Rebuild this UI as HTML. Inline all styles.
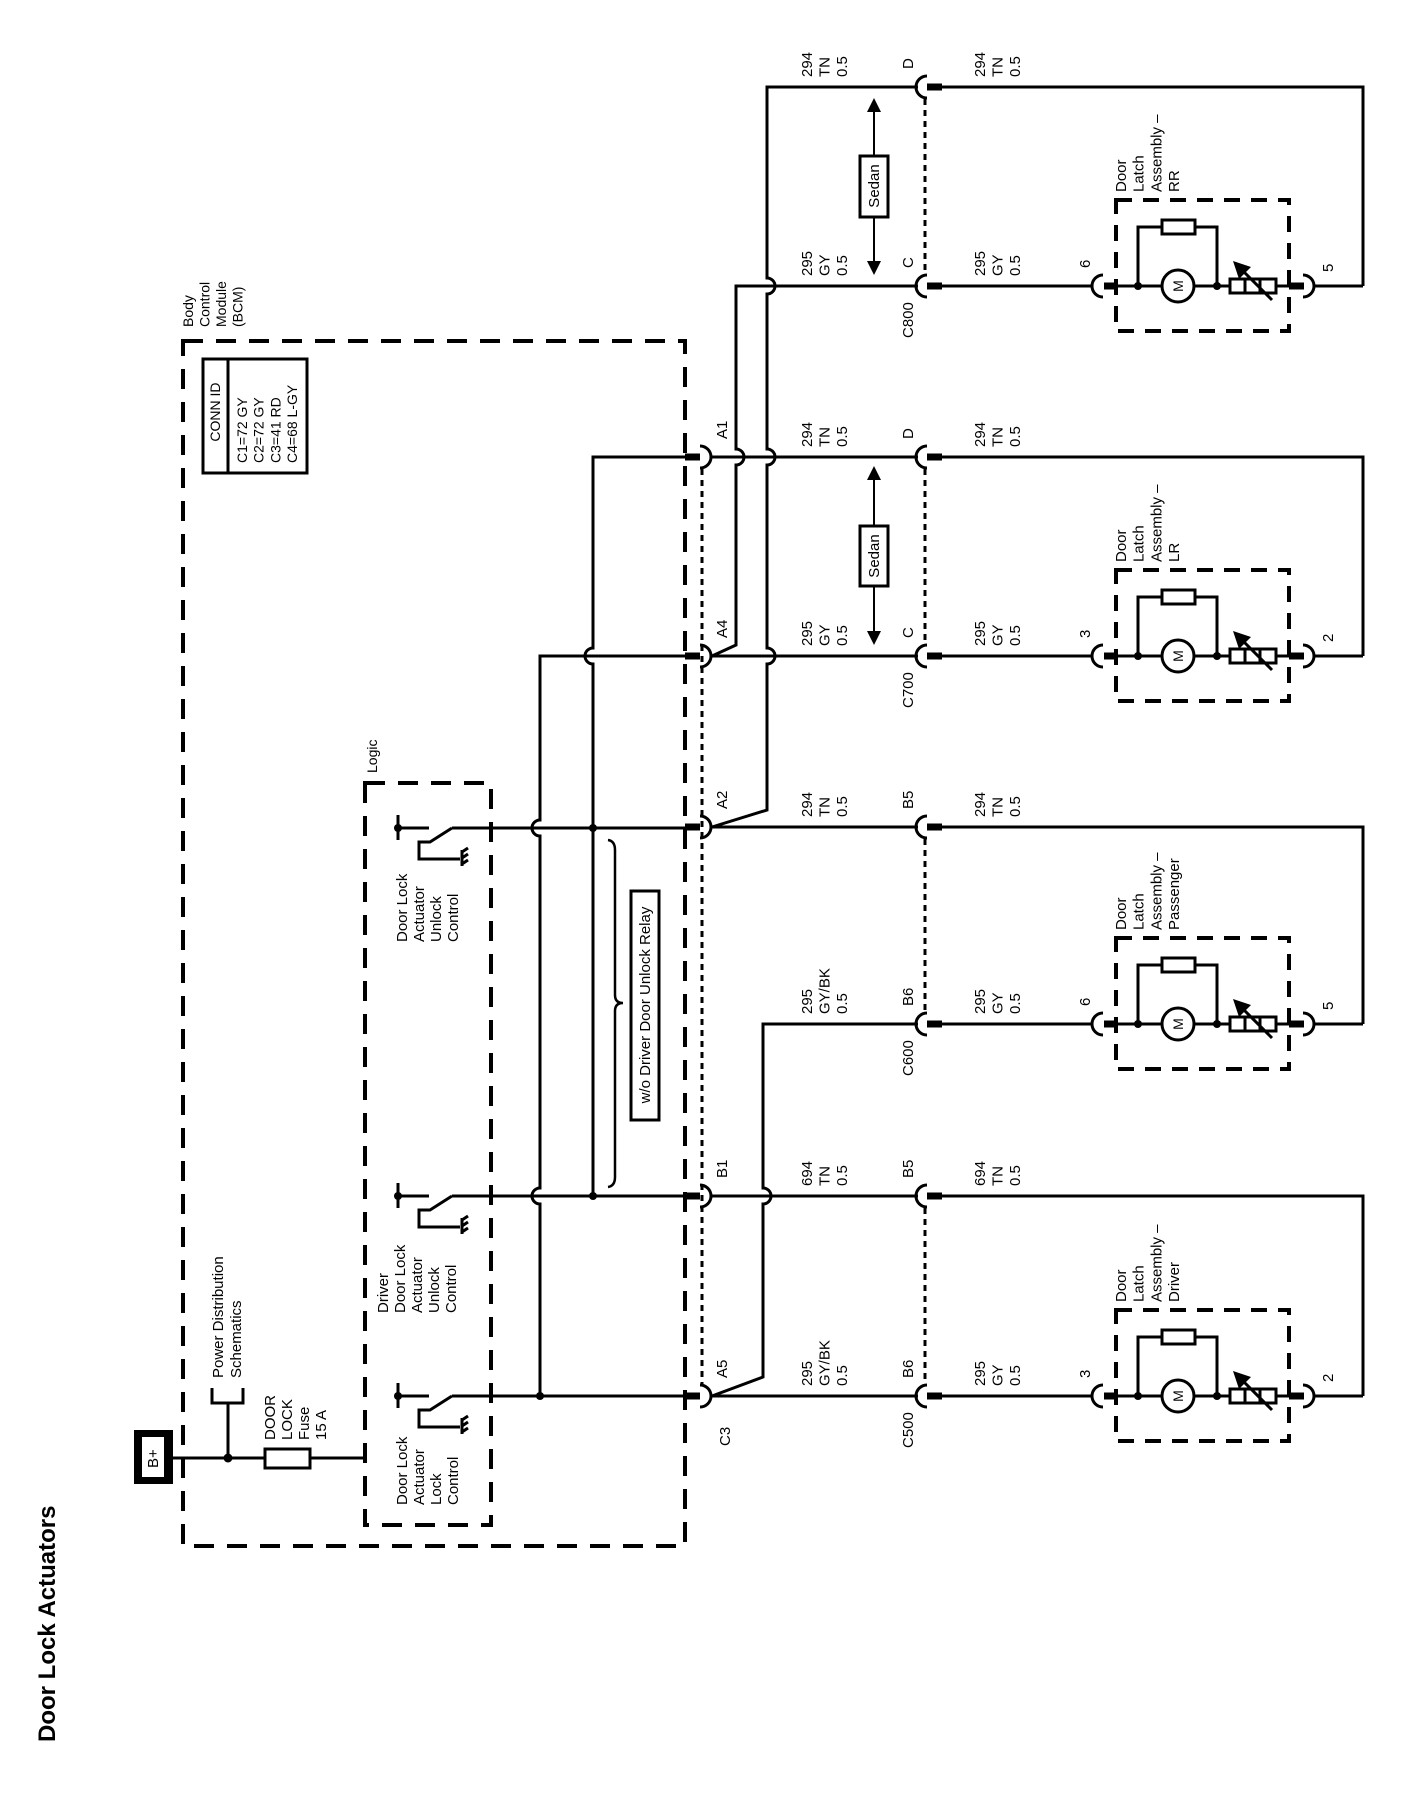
<!DOCTYPE html>
<html><head><meta charset="utf-8"><style>
html,body{margin:0;padding:0;background:#fff;}
svg{display:block;}
text{font-family:"Liberation Sans",Arial,sans-serif;font-size:15px;fill:#000;}
.w{stroke:#000;stroke-width:3;fill:none;}
.bar{stroke:#000;stroke-width:7;fill:none;}
.dash{stroke:#000;stroke-width:4;fill:none;stroke-dasharray:20 13;}
.cdash{stroke:#000;stroke-width:4;fill:none;stroke-dasharray:16 11;}
.dot{stroke:#000;stroke-width:3;fill:none;stroke-dasharray:6 5;}
</style></head><body>
<svg width="1408" height="1800" viewBox="0 0 1408 1800" xmlns="http://www.w3.org/2000/svg">
<defs>
<g id="comp">
  <rect x="1116" y="-86" width="173" height="131" class="cdash"/>
  <path class="w" d="M1103,-11 A11,11 0 0 0 1103,11"/>
  <line class="bar" x1="1104" y1="0" x2="1118" y2="0"/>
  <path class="w" d="M1118,0 H1162 M1194,0 H1230 M1276,0 H1289"/>
  <circle cx="1138" cy="0" r="4"/><circle cx="1217" cy="0" r="4"/>
  <circle cx="1178" cy="0" r="16" fill="#fff" stroke="#000" stroke-width="3"/>
  <text transform="translate(1183,0) rotate(-90)" text-anchor="middle" style="font-size:14px">M</text>
  <path class="w" d="M1138,0 V-59 H1217 V0"/>
  <rect x="1162" y="-66" width="33" height="14" fill="#fff" stroke="#000" stroke-width="3"/>
  <rect x="1230" y="-7" width="46" height="14" fill="#fff" stroke="#000" stroke-width="3"/>
  <path class="w" d="M1245,-7 V7 M1260,-7 V7"/>
  <line x1="1272" y1="14" x2="1242" y2="-16" stroke="#000" stroke-width="3"/>
  <polygon points="1233,-25 1251,-19 1239,-7"/>
  <line class="bar" x1="1289" y1="0" x2="1304" y2="0"/>
  <path class="w" d="M1303,-11 A11,11 0 0 1 1303,11"/>
  <path class="w" d="M1314,0 H1363"/>
</g>
<g id="c2">
  <path class="w" d="M927,-11 A11,11 0 0 0 927,11"/>
  <line class="bar" x1="927" y1="0" x2="942" y2="0"/>
</g>
<g id="c1">
  <line class="bar" x1="685" y1="0" x2="700" y2="0"/>
  <path class="w" d="M700,-11 A11,11 0 0 1 700,11"/>
</g>
<g id="sw">
  <circle cx="398" cy="0" r="4"/>
  <path class="w" d="M398,-13 V12 M398,0 H429"/>
  <path class="w" d="M452,0 L430,14 H419 V31 H460"/>
  <path class="w" d="M462,22 V38 M462,24 l6,-4 M462,30 l6,-4 M462,36 l6,-4"/>
</g>
</defs>

<!-- title -->
<text transform="translate(55,1742) rotate(-90)" style="font-size:24px;font-weight:bold">Door Lock Actuators</text>

<!-- BCM -->
<rect x="183" y="341" width="502" height="1205" class="dash"/>
<text transform="translate(193,327) rotate(-90)" style="font-size:14px"><tspan x="0" y="0">Body</tspan><tspan x="0" dy="16.5">Control</tspan><tspan x="0" dy="16.5">Module</tspan><tspan x="0" dy="16.5">(BCM)</tspan></text>
<rect x="203" y="359" width="104" height="114" fill="none" stroke="#000" stroke-width="3"/>
<line x1="228" y1="359" x2="228" y2="473" stroke="#000" stroke-width="3"/>
<text transform="translate(220,412) rotate(-90)" text-anchor="middle" style="font-size:14px">CONN ID</text>
<text transform="translate(247,463) rotate(-90)" style="font-size:14px"><tspan x="0" y="0">C1=72 GY</tspan><tspan x="0" dy="16.7">C2=72 GY</tspan><tspan x="0" dy="16.7">C3=41 RD</tspan><tspan x="0" dy="16.7">C4=68 L-GY</tspan></text>

<!-- Logic -->
<rect x="365" y="783" width="126" height="742" class="dash"/>
<text transform="translate(377,773) rotate(-90)" style="font-size:14px">Logic</text>

<!-- B+ & fuse -->
<rect x="134" y="1430" width="39" height="54" fill="#000"/>
<rect x="142" y="1437" width="22" height="40" fill="#fff"/>
<text transform="translate(158,1468) rotate(-90)" style="font-size:15px">B+</text>
<path class="w" d="M173,1458 H365"/>
<circle cx="228" cy="1458" r="4.5"/>
<path class="w" d="M228,1458 V1403 M212,1388 V1403 H243 V1388"/>
<rect x="265" y="1449" width="45" height="19" fill="#fff" stroke="#000" stroke-width="3"/>
<text transform="translate(223,1378) rotate(-90)"><tspan x="0" y="0">Power Distribution</tspan><tspan x="0" dy="18">Schematics</tspan></text>
<text transform="translate(275,1440) rotate(-90)"><tspan x="0" y="0">DOOR</tspan><tspan x="0" dy="17">LOCK</tspan><tspan x="0" dy="17">Fuse</tspan><tspan x="0" dy="17">15 A</tspan></text>

<!-- switches -->
<use href="#sw" transform="translate(0,828)"/>
<use href="#sw" transform="translate(0,1196)"/>
<use href="#sw" transform="translate(0,1396)"/>
<text transform="translate(407,942) rotate(-90)"><tspan x="0" y="0">Door Lock</tspan><tspan x="0" dy="17">Actuator</tspan><tspan x="0" dy="17">Unlock</tspan><tspan x="0" dy="17">Control</tspan></text>
<text transform="translate(388,1313) rotate(-90)"><tspan x="0" y="0">Driver</tspan><tspan x="0" dy="17">Door Lock</tspan><tspan x="0" dy="17">Actuator</tspan><tspan x="0" dy="17">Unlock</tspan><tspan x="0" dy="17">Control</tspan></text>
<text transform="translate(407,1505) rotate(-90)"><tspan x="0" y="0">Door Lock</tspan><tspan x="0" dy="17">Actuator</tspan><tspan x="0" dy="17">Lock</tspan><tspan x="0" dy="17">Control</tspan></text>

<!-- BCM internal wiring -->
<path class="w" d="M452,828 H685 M452,1196 H685 M452,1396 H685"/>
<path class="w" d="M685,656 H540 V820 A8,8 0 0 0 540,836 V1188 A8,8 0 0 0 540,1204 V1396"/>
<path class="w" d="M685,457 H593 V648 A8,8 0 0 0 593,664 V1196"/>
<circle cx="540" cy="1396" r="4"/>
<circle cx="593" cy="828" r="4"/>
<circle cx="593" cy="1196" r="4"/>
<path d="M608,840 Q615,841 615,850 V995 Q615,1003 623,1003 Q615,1003 615,1011 V1177 Q615,1186 608,1187" fill="none" stroke="#000" stroke-width="2.5"/>
<rect x="631" y="891" width="28" height="229" fill="#fff" stroke="#000" stroke-width="3"/>
<text transform="translate(650,1005) rotate(-90)" text-anchor="middle">w/o Driver Door Unlock Relay</text>

<!-- BCM connectors -->
<line class="dot" x1="702" y1="469" x2="702" y2="1386"/>
<use href="#c1" transform="translate(0,457)"/>
<use href="#c1" transform="translate(0,656)"/>
<use href="#c1" transform="translate(0,827)"/>
<use href="#c1" transform="translate(0,1196)"/>
<use href="#c1" transform="translate(0,1396)"/>
<text transform="translate(727,439) rotate(-90)">A1</text>
<text transform="translate(727,638) rotate(-90)">A4</text>
<text transform="translate(727,809) rotate(-90)">A2</text>
<text transform="translate(727,1178) rotate(-90)">B1</text>
<text transform="translate(727,1378) rotate(-90)">A5</text>
<text transform="translate(730,1446) rotate(-90)">C3</text>

<!-- harness wiring -->
<path class="w" d="M712,457 H918 M712,656 H918 M712,827 H918 M712,1196 H918 M712,1396 H918"/>
<path class="w" d="M712,656 L736,645 V465 A8,8 0 0 0 736,449 V286 H918 M918,87"/>
<path class="w" d="M712,827 L767,810 V664 A8,8 0 0 0 767,648 V465 A8,8 0 0 0 767,449 V294 A8,8 0 0 0 767,278 V87 H918"/>
<path class="w" d="M712,1396 L763,1377 V1204 A8,8 0 0 0 763,1188 V1024 H918"/>

<!-- column 2 connectors -->
<line class="dot" x1="925" y1="99" x2="925" y2="274"/>
<line class="dot" x1="925" y1="469" x2="925" y2="644"/>
<line class="dot" x1="925" y1="839" x2="925" y2="1012"/>
<line class="dot" x1="925" y1="1208" x2="925" y2="1384"/>
<use href="#c2" transform="translate(0,87)"/>
<use href="#c2" transform="translate(0,286)"/>
<use href="#c2" transform="translate(0,457)"/>
<use href="#c2" transform="translate(0,656)"/>
<use href="#c2" transform="translate(0,827)"/>
<use href="#c2" transform="translate(0,1024)"/>
<use href="#c2" transform="translate(0,1196)"/>
<use href="#c2" transform="translate(0,1396)"/>
<text transform="translate(913,69) rotate(-90)">D</text>
<text transform="translate(913,268) rotate(-90)">C</text>
<text transform="translate(913,439) rotate(-90)">D</text>
<text transform="translate(913,638) rotate(-90)">C</text>
<text transform="translate(913,809) rotate(-90)">B5</text>
<text transform="translate(913,1006) rotate(-90)">B6</text>
<text transform="translate(913,1178) rotate(-90)">B5</text>
<text transform="translate(913,1378) rotate(-90)">B6</text>
<text transform="translate(913,338) rotate(-90)">C800</text>
<text transform="translate(913,708) rotate(-90)">C700</text>
<text transform="translate(913,1076) rotate(-90)">C600</text>
<text transform="translate(913,1448) rotate(-90)">C500</text>

<!-- wire labels left -->
<text transform="translate(812,77) rotate(-90)"><tspan x="0" y="0">294</tspan><tspan x="0" dy="17.5">TN</tspan><tspan x="0" dy="17.5">0.5</tspan></text>
<text transform="translate(812,276) rotate(-90)"><tspan x="0" y="0">295</tspan><tspan x="0" dy="17.5">GY</tspan><tspan x="0" dy="17.5">0.5</tspan></text>
<text transform="translate(812,447) rotate(-90)"><tspan x="0" y="0">294</tspan><tspan x="0" dy="17.5">TN</tspan><tspan x="0" dy="17.5">0.5</tspan></text>
<text transform="translate(812,646) rotate(-90)"><tspan x="0" y="0">295</tspan><tspan x="0" dy="17.5">GY</tspan><tspan x="0" dy="17.5">0.5</tspan></text>
<text transform="translate(812,817) rotate(-90)"><tspan x="0" y="0">294</tspan><tspan x="0" dy="17.5">TN</tspan><tspan x="0" dy="17.5">0.5</tspan></text>
<text transform="translate(812,1014) rotate(-90)"><tspan x="0" y="0">295</tspan><tspan x="0" dy="17.5">GY/BK</tspan><tspan x="0" dy="17.5">0.5</tspan></text>
<text transform="translate(812,1186) rotate(-90)"><tspan x="0" y="0">694</tspan><tspan x="0" dy="17.5">TN</tspan><tspan x="0" dy="17.5">0.5</tspan></text>
<text transform="translate(812,1386) rotate(-90)"><tspan x="0" y="0">295</tspan><tspan x="0" dy="17.5">GY/BK</tspan><tspan x="0" dy="17.5">0.5</tspan></text>
<!-- wire labels right -->
<text transform="translate(985,77) rotate(-90)"><tspan x="0" y="0">294</tspan><tspan x="0" dy="17.5">TN</tspan><tspan x="0" dy="17.5">0.5</tspan></text>
<text transform="translate(985,276) rotate(-90)"><tspan x="0" y="0">295</tspan><tspan x="0" dy="17.5">GY</tspan><tspan x="0" dy="17.5">0.5</tspan></text>
<text transform="translate(985,447) rotate(-90)"><tspan x="0" y="0">294</tspan><tspan x="0" dy="17.5">TN</tspan><tspan x="0" dy="17.5">0.5</tspan></text>
<text transform="translate(985,646) rotate(-90)"><tspan x="0" y="0">295</tspan><tspan x="0" dy="17.5">GY</tspan><tspan x="0" dy="17.5">0.5</tspan></text>
<text transform="translate(985,817) rotate(-90)"><tspan x="0" y="0">294</tspan><tspan x="0" dy="17.5">TN</tspan><tspan x="0" dy="17.5">0.5</tspan></text>
<text transform="translate(985,1014) rotate(-90)"><tspan x="0" y="0">295</tspan><tspan x="0" dy="17.5">GY</tspan><tspan x="0" dy="17.5">0.5</tspan></text>
<text transform="translate(985,1186) rotate(-90)"><tspan x="0" y="0">694</tspan><tspan x="0" dy="17.5">TN</tspan><tspan x="0" dy="17.5">0.5</tspan></text>
<text transform="translate(985,1386) rotate(-90)"><tspan x="0" y="0">295</tspan><tspan x="0" dy="17.5">GY</tspan><tspan x="0" dy="17.5">0.5</tspan></text>

<!-- Sedan markers -->
<line x1="874" y1="108" x2="874" y2="266" stroke="#000" stroke-width="2"/>
<polygon points="874,98 867,112 881,112"/><polygon points="874,275 867,261 881,261"/>
<rect x="860" y="156" width="28" height="61" fill="#fff" stroke="#000" stroke-width="3"/>
<text transform="translate(879,186) rotate(-90)" text-anchor="middle">Sedan</text>
<line x1="874" y1="476" x2="874" y2="636" stroke="#000" stroke-width="2"/>
<polygon points="874,466 867,480 881,480"/><polygon points="874,645 867,631 881,631"/>
<rect x="860" y="526" width="28" height="60" fill="#fff" stroke="#000" stroke-width="3"/>
<text transform="translate(879,556) rotate(-90)" text-anchor="middle">Sedan</text>

<!-- right side wires -->
<path class="w" d="M942,87 H1363 V286 M942,286 H1092"/>
<path class="w" d="M942,457 H1363 V656 M942,656 H1092"/>
<path class="w" d="M942,827 H1363 V1024 M942,1024 H1092"/>
<path class="w" d="M942,1196 H1363 V1396 M942,1396 H1092"/>

<use href="#comp" transform="translate(0,286)"/>
<use href="#comp" transform="translate(0,656)"/>
<use href="#comp" transform="translate(0,1024)"/>
<use href="#comp" transform="translate(0,1396)"/>

<text transform="translate(1126,192) rotate(-90)"><tspan x="0" y="0">Door</tspan><tspan x="0" dy="17.7">Latch</tspan><tspan x="0" dy="17.7">Assembly –</tspan><tspan x="0" dy="17.7">RR</tspan></text>
<text transform="translate(1126,562) rotate(-90)"><tspan x="0" y="0">Door</tspan><tspan x="0" dy="17.7">Latch</tspan><tspan x="0" dy="17.7">Assembly –</tspan><tspan x="0" dy="17.7">LR</tspan></text>
<text transform="translate(1126,930) rotate(-90)"><tspan x="0" y="0">Door</tspan><tspan x="0" dy="17.7">Latch</tspan><tspan x="0" dy="17.7">Assembly –</tspan><tspan x="0" dy="17.7">Passenger</tspan></text>
<text transform="translate(1126,1302) rotate(-90)"><tspan x="0" y="0">Door</tspan><tspan x="0" dy="17.7">Latch</tspan><tspan x="0" dy="17.7">Assembly –</tspan><tspan x="0" dy="17.7">Driver</tspan></text>

<text transform="translate(1090,268) rotate(-90)">6</text>
<text transform="translate(1333,272) rotate(-90)">5</text>
<text transform="translate(1090,638) rotate(-90)">3</text>
<text transform="translate(1333,642) rotate(-90)">2</text>
<text transform="translate(1090,1006) rotate(-90)">6</text>
<text transform="translate(1333,1010) rotate(-90)">5</text>
<text transform="translate(1090,1378) rotate(-90)">3</text>
<text transform="translate(1333,1382) rotate(-90)">2</text>
</svg>
</body></html>
